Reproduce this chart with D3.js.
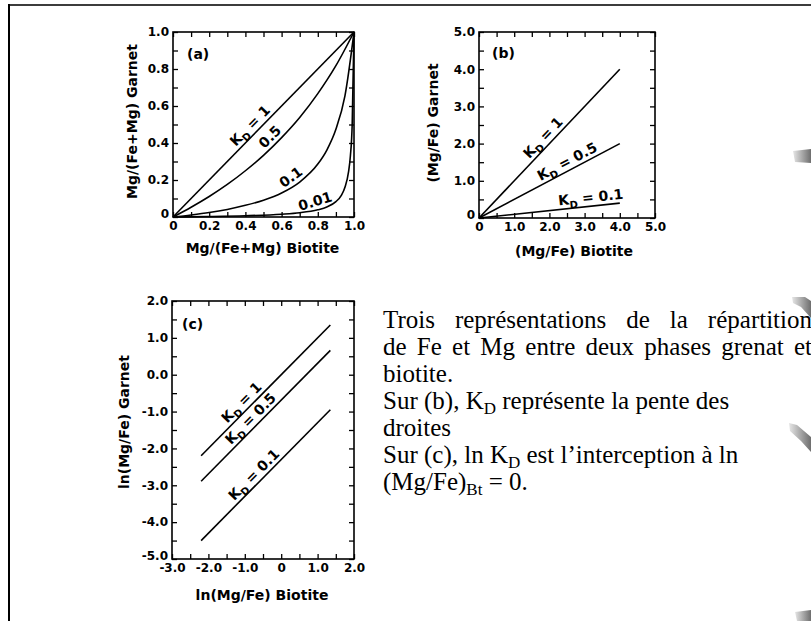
<!DOCTYPE html>
<html>
<head>
<meta charset="utf-8">
<script src="https://cdn.jsdelivr.net/npm/d3@7"></script>
<style>
  html, body { margin: 0; padding: 0; background: #fff; }
  svg { display: block; }
</style>
</head>
<body>
<svg id="fig" width="811" height="621"></svg>
<script>
// ---------- Panel (a): Mg/(Fe+Mg) garnet vs biotite ----------
const aTicks = [0, 0.2, 0.4, 0.6, 0.8, 1.0];
const aTickLabels = ["0", "0.2", "0.4", "0.6", "0.8", "1.0"];
const aMinor = [0, 0.1, 0.2, 0.3, 0.4, 0.5, 0.6, 0.7, 0.8, 0.9, 1.0];
const aKd1 = [[0, 0], [1, 1]];
const aKd05 = [[0, 0], [0.1, 0.053], [0.2, 0.111], [0.3, 0.176], [0.4, 0.25], [0.5, 0.333],
               [0.6, 0.429], [0.7, 0.538], [0.8, 0.667], [0.9, 0.818], [1, 1]];
const aKd01 = [[0, 0], [0.1, 0.011], [0.2, 0.024], [0.3, 0.041], [0.4, 0.063], [0.5, 0.091],
               [0.6, 0.13], [0.7, 0.189], [0.8, 0.286], [0.85, 0.362], [0.9, 0.474],
               [0.95, 0.655], [1, 1]];
const aKd001 = [[0, 0], [0.2, 0.0025], [0.4, 0.0067], [0.6, 0.015], [0.7, 0.023], [0.8, 0.039],
                [0.85, 0.054], [0.9, 0.083], [0.93, 0.117], [0.95, 0.161], [0.97, 0.245],
                [0.98, 0.33], [0.99, 0.5], [1, 1]];

// ---------- Panel (b): (Mg/Fe) garnet vs biotite ----------
const bTicks = [0, 1, 2, 3, 4, 5];
const bTickLabels = ["0", "1.0", "2.0", "3.0", "4.0", "5.0"];
const bMinor = [0, 0.5, 1, 1.5, 2, 2.5, 3, 3.5, 4, 4.5, 5];
const bKd1 = [[0, 0], [4, 4]];
const bKd05 = [[0, 0], [4, 2]];
const bKd01 = [[0, 0], [4, 0.4]];

// ---------- Panel (c): ln(Mg/Fe) garnet vs biotite ----------
const cxTicks = [-3, -2, -1, 0, 1, 2];
const cxTickLabels = ["-3.0", "-2.0", "-1.0", "0", "1.0", "2.0"];
const cxMinor = [-3, -2.5, -2, -1.5, -1, -0.5, 0, 0.5, 1, 1.5, 2];
const cyTicks = [-5, -4, -3, -2, -1, 0, 1, 2];
const cyTickLabels = ["-5.0", "-4.0", "-3.0", "-2.0", "-1.0", "0.0", "1.0", "2.0"];
const cyMinor = [-5, -4.5, -4, -3.5, -3, -2.5, -2, -1.5, -1, -0.5, 0, 0.5, 1, 1.5, 2];
const cKd1 = [[-2.2, -2.2], [1.35, 1.35]];
const cKd05 = [[-2.2, -2.89], [1.35, 0.66]];
const cKd01 = [[-2.2, -4.5], [1.35, -0.95]];

// ---------- Caption ----------
const captionLines = [
  [{t: "Trois représentations de la répartition"}],
  [{t: "de Fe et Mg entre deux phases grenat et"}],
  [{t: "biotite."}],
  [{t: "Sur (b), K"}, {t: "D", sub: true}, {t: " représente la pente des"}],
  [{t: "droites"}],
  [{t: "Sur (c), ln K"}, {t: "D", sub: true}, {t: " est l\u2019interception à ln"}],
  [{t: "(Mg/Fe)"}, {t: "Bt", sub: true}, {t: " = 0."}]
];

const svg = d3.select("#fig");
const SANS = "DejaVu Sans";

// slide frame edges
svg.append("line").attr("x1", 8).attr("y1", 5).attr("x2", 811).attr("y2", 5)
  .attr("stroke", "#3c3c3c").attr("stroke-width", 2);
svg.append("line").attr("x1", 9).attr("y1", 4).attr("x2", 9).attr("y2", 621)
  .attr("stroke", "#000").attr("stroke-width", 2);

// grey fragments at the right edge of the slide
const defs = svg.append("defs");
const grad = defs.append("linearGradient").attr("id", "edgeGrey")
  .attr("x1", "0").attr("y1", "0").attr("x2", "1").attr("y2", "0");
grad.append("stop").attr("offset", "0").attr("stop-color", "#e6e6e6");
grad.append("stop").attr("offset", "1").attr("stop-color", "#6e6e6e");
const fragments = [
  "M793,151 L811,149 L811,163 L795,162 Z",
  "M792,297 L805,297 L811,301 L811,318 L801,307 L793,303 Z",
  "M789,423 L797,425 L811,437 L811,452 L801,441 L790,431 Z",
  "M795,612 L811,610 L811,621 L797,621 Z"
];
svg.selectAll("path.frag").data(fragments).join("path")
  .attr("class", "frag").attr("d", d => d).attr("fill", "url(#edgeGrey)");

// ---------- helpers ----------
function interpY(series, xv) {
  for (let i = 0; i < series.length - 1; i++) {
    const [x0, y0] = series[i], [x1, y1] = series[i + 1];
    if (xv >= x0 && xv <= x1) return y0 + (y1 - y0) * (xv - x0) / (x1 - x0);
  }
  return series[series.length - 1][1];
}

function drawPanel(cfg) {
  const g = svg.append("g");
  const x = d3.scaleLinear().domain(cfg.xDomain).range([cfg.left, cfg.right]);
  const y = d3.scaleLinear().domain(cfg.yDomain).range([cfg.bottom, cfg.top]);
  const tl = 5;

  // inward ticks on all four sides
  const tickAxes = [
    [d3.axisBottom(x).tickValues(cfg.xMinor), `translate(0,${cfg.bottom})`],
    [d3.axisTop(x).tickValues(cfg.xMinor), `translate(0,${cfg.top})`],
    [d3.axisLeft(y).tickValues(cfg.yMinor), `translate(${cfg.left},0)`],
    [d3.axisRight(y).tickValues(cfg.yMinor), `translate(${cfg.right},0)`]
  ];
  tickAxes.forEach(([ax, tr]) => {
    const a = g.append("g").attr("transform", tr)
      .call(ax.tickSizeInner(-tl).tickSizeOuter(0).tickFormat(""));
    a.select(".domain").remove();
    a.selectAll("line").attr("stroke", "#000").attr("stroke-width", 1.3);
  });

  // tick labels
  const xl = g.append("g").attr("transform", `translate(0,${cfg.bottom})`)
    .call(d3.axisBottom(x).tickValues(cfg.xTicks)
      .tickFormat(d => cfg.xLabels[cfg.xTicks.indexOf(d)]).tickSize(0).tickPadding(4));
  const yl = g.append("g").attr("transform", `translate(${cfg.left},0)`)
    .call(d3.axisLeft(y).tickValues(cfg.yTicks)
      .tickFormat(d => cfg.yLabels[cfg.yTicks.indexOf(d)]).tickSize(0).tickPadding(4));
  [xl, yl].forEach(a => {
    a.select(".domain").remove();
    a.attr("font-family", SANS).attr("font-size", 12).attr("font-weight", "bold");
    a.selectAll("text").attr("fill", "#000");
  });
  // the lowest y label is lifted clear of the x labels at the corner
  yl.selectAll(".tick").filter(d => d === cfg.yDomain[0]).select("text").attr("y", -3);

  // box
  g.append("rect").attr("x", cfg.left).attr("y", cfg.top)
    .attr("width", cfg.right - cfg.left).attr("height", cfg.bottom - cfg.top)
    .attr("fill", "none").attr("stroke", "#000").attr("stroke-width", 1.6);

  // series
  const line = d3.line().x(d => x(d[0])).y(d => y(d[1])).curve(d3.curveMonotoneX);
  cfg.series.forEach(s => {
    g.append("path").datum(s.data).attr("d", line)
      .attr("fill", "none").attr("stroke", "#000").attr("stroke-width", 1.6);
  });

  // curve labels sitting on their lines
  cfg.series.forEach(s => {
    if (!s.label) return;
    const xv = s.labelAt, h = s.span || 0.05 * (cfg.xDomain[1] - cfg.xDomain[0]);
    const px = x(xv), py = y(interpY(s.data, xv));
    const ang = Math.atan2(y(interpY(s.data, xv + h)) - y(interpY(s.data, xv - h)),
                           x(xv + h) - x(xv - h)) * 180 / Math.PI;
    const t = g.append("text")
      .attr("transform", `translate(${px},${py}) rotate(${ang})`)
      .attr("text-anchor", "middle").attr("dy", -4)
      .attr("font-family", SANS).attr("font-size", 14).attr("font-weight", "bold");
    if (s.kd) {
      t.append("tspan").text("K");
      t.append("tspan").attr("font-size", 10).attr("dy", 4).text("D");
      t.append("tspan").attr("dy", -4).text(" = " + s.label);
    } else {
      t.append("tspan").text(s.label);
    }
  });

  // panel letter
  g.append("text").attr("x", cfg.letterPos[0]).attr("y", cfg.letterPos[1])
    .attr("font-family", SANS).attr("font-size", 14).attr("font-weight", "bold")
    .text(cfg.letter);

  // axis titles
  g.append("text").attr("x", (cfg.left + cfg.right) / 2 + cfg.xTitleShift).attr("y", cfg.xTitleY)
    .attr("text-anchor", "middle").attr("font-family", SANS).attr("font-size", 14)
    .attr("font-weight", "bold").text(cfg.xTitle);
  g.append("text")
    .attr("transform", `translate(${cfg.yTitleX},${(cfg.top + cfg.bottom) / 2 + cfg.yTitleShift}) rotate(-90)`)
    .attr("text-anchor", "middle").attr("font-family", SANS).attr("font-size", 14)
    .attr("font-weight", "bold").text(cfg.yTitle);
}

drawPanel({
  left: 173, right: 354, top: 32, bottom: 217,
  xDomain: [0, 1], yDomain: [0, 1],
  xTicks: aTicks, xLabels: aTickLabels, yTicks: aTicks, yLabels: aTickLabels,
  xMinor: aMinor, yMinor: aMinor,
  series: [
    {data: aKd1, label: "1", kd: true, labelAt: 0.46},
    {data: aKd05, label: "0.5", labelAt: 0.57},
    {data: aKd01, label: "0.1", labelAt: 0.68, span: 0.06},
    {data: aKd001, label: "0.01", labelAt: 0.8, span: 0.1}
  ],
  letter: "(a)", letterPos: [187, 59],
  xTitle: "Mg/(Fe+Mg) Biotite", xTitleY: 253, xTitleShift: -1,
  yTitle: "Mg/(Fe+Mg) Garnet", yTitleX: 137, yTitleShift: -3
});

drawPanel({
  left: 479, right: 655, top: 32, bottom: 218,
  xDomain: [0, 5], yDomain: [0, 5],
  xTicks: bTicks, xLabels: bTickLabels, yTicks: bTicks, yLabels: bTickLabels,
  xMinor: bMinor, yMinor: bMinor,
  series: [
    {data: bKd1, label: "1", kd: true, labelAt: 2.0},
    {data: bKd05, label: "0.5", kd: true, labelAt: 2.62},
    {data: bKd01, label: "0.1", kd: true, labelAt: 3.2}
  ],
  letter: "(b)", letterPos: [492, 58],
  xTitle: "(Mg/Fe) Biotite", xTitleY: 256, xTitleShift: 7,
  yTitle: "(Mg/Fe) Garnet", yTitleX: 438, yTitleShift: -2
});

drawPanel({
  left: 172, right: 354, top: 301, bottom: 559,
  xDomain: [-3, 2], yDomain: [-5, 2],
  xTicks: cxTicks, xLabels: cxTickLabels, yTicks: cyTicks, yLabels: cyTickLabels,
  xMinor: cxMinor, yMinor: cyMinor,
  series: [
    {data: cKd1, label: "1", kd: true, labelAt: -0.92},
    {data: cKd05, label: "0.5", kd: true, labelAt: -0.67},
    {data: cKd01, label: "0.1", kd: true, labelAt: -0.58}
  ],
  letter: "(c)", letterPos: [182, 329],
  xTitle: "ln(Mg/Fe) Biotite", xTitleY: 600, xTitleShift: -1,
  yTitle: "ln(Mg/Fe) Garnet", yTitleX: 129, yTitleShift: -8
});

// ---------- caption block ----------
const capX = 383, capTop = 328, capStep = 27, capRight = 812;
const cap = svg.append("g").attr("font-family", "Liberation Serif").attr("font-size", 25).attr("fill", "#000");
captionLines.forEach((parts, i) => {
  const t = cap.append("text").attr("x", capX).attr("y", capTop + i * capStep);
  parts.forEach((p, k) => {
    const ts = t.append("tspan").text(p.t);
    if (p.sub) ts.attr("font-size", 17).attr("dy", 5);
    else if (k > 0 && parts[k - 1].sub) ts.attr("dy", -5);
  });
  // the first paragraph is justified except its last line
  if (i < 2) {
    const natural = t.node().getComputedTextLength();
    const gaps = (parts.map(p => p.t).join("").match(/ /g) || []).length;
    t.attr("word-spacing", (capRight - capX - natural) / gaps);
  }
});
</script>
</body>
</html>
